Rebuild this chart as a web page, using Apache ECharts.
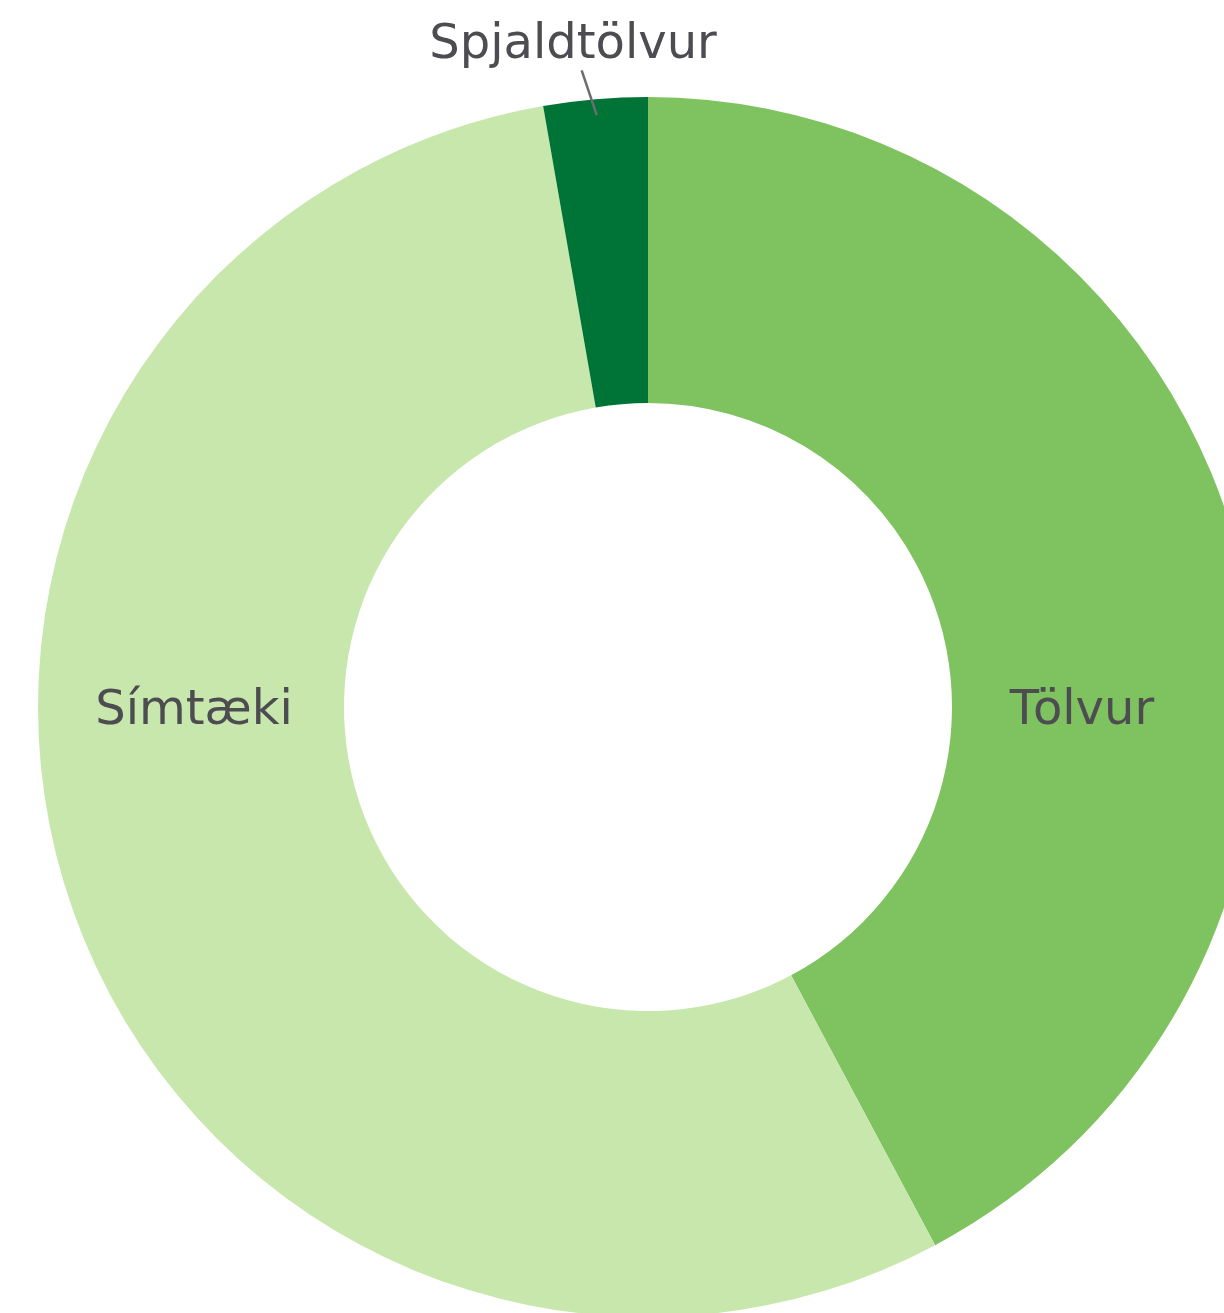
<!DOCTYPE html>
<html>
<head>
<meta charset="utf-8">
<script src="https://cdn.jsdelivr.net/npm/echarts@6/dist/echarts.min.js"></script>
<style>
  html, body { margin: 0; padding: 0; background: #ffffff; }
  #chart { width: 1224px; height: 1313px; }
</style>
</head>
<body>
<div id="chart"></div>
<script>
// Device share by category (percent)
const categories = ['Tölvur', 'Símtæki', 'Spjaldtölvur'];
const shares = [42.2, 55.05, 2.75];
const sliceColors = ['#7fc260', '#c7e7ad', '#007337'];

// Ring geometry
const CX = 648, CY = 707, R_IN = 304, R_OUT = 610;
// Label anchors, relative to the ring centre
const labelOffsets = [[434, 5], [-454, 5], [-75, -661]];
// Slices whose name sits outside the ring, with a leader line
const outsideLabels = [false, false, true];

const total = shares.reduce((a, b) => a + b, 0);
// Middle angle of slice i, degrees clockwise from 12 o'clock
function midAngle(i) {
  let start = 0;
  for (let k = 0; k < i; k++) start += shares[k] / total * 360;
  return start + shares[i] / total * 180;
}
function polar(r, deg) {
  const a = deg * Math.PI / 180;
  return [CX + r * Math.sin(a), CY - r * Math.cos(a)];
}

const labelFont = {
  fontFamily: 'DejaVu Sans',
  fontSize: 48,
  color: '#4d4d51'
};

function labelLayout(params) {
  const i = params.dataIndex;
  const out = {
    x: CX + labelOffsets[i][0],
    y: CY + labelOffsets[i][1],
    align: 'center',
    verticalAlign: 'middle'
  };
  if (outsideLabels[i]) {
    const a = midAngle(i);
    out.labelLinePoints = [polar(594, a), polar(640, a - 1)];
  }
  return out;
}

const base = {
  type: 'pie',
  center: [CX, CY],
  radius: [R_IN, R_OUT],
  startAngle: 90,
  clockwise: true,
  silent: true,
  avoidLabelOverlap: false,
  emphasis: { disabled: true },
  labelLayout: labelLayout
};

const chart = echarts.init(document.getElementById('chart'), null, { renderer: 'canvas' });
chart.setOption({
  animation: false,
  backgroundColor: '#ffffff',
  series: [
    // Ring with the names that sit inside it
    Object.assign({}, base, {
      z: 2,
      label: Object.assign({ show: true, position: 'inside', formatter: '{b}' }, labelFont),
      labelLine: { show: false },
      data: categories.map((name, i) => ({
        name: name,
        value: shares[i],
        itemStyle: { color: sliceColors[i] },
        label: { show: !outsideLabels[i] }
      }))
    }),
    // Overlay carrying the outside names and leader lines above the ring
    Object.assign({}, base, {
      z: 3,
      label: Object.assign({ show: true, position: 'outside', formatter: '{b}' }, labelFont),
      labelLine: { show: true, length: 20, length2: 0, lineStyle: { color: '#6d6d70', width: 2.5 } },
      data: categories.map((name, i) => ({
        name: name,
        value: shares[i],
        itemStyle: { color: 'rgba(0,0,0,0)' },
        label: { show: outsideLabels[i] },
        labelLine: { show: outsideLabels[i] }
      }))
    })
  ]
});
</script>
</body>
</html>
